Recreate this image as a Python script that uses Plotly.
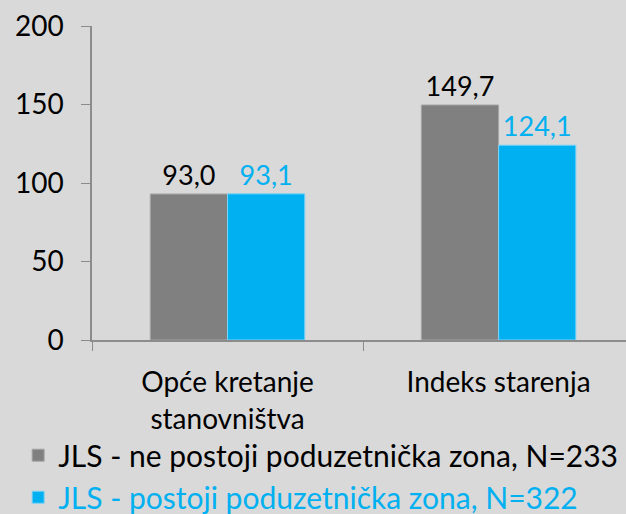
import plotly.graph_objects as go

categories = ["Opće kretanje<br>stanovništva", "Indeks starenja"]
series_names = [
    "JLS - ne postoji poduzetnička zona, N=233",
    "JLS - postoji poduzetnička zona, N=322",
]
values_no_zone = [93.0, 149.7]
values_zone = [93.1, 124.1]
y_ticks = [0, 50, 100, 150, 200]

GRAY = "#808080"
BLUE = "#00B0F0"
FONT = "Lato"


def fmt(v):
    return f"{v:.1f}".replace(".", ",")


fig = go.Figure()

fig.add_trace(go.Bar(
    x=categories,
    y=values_no_zone,
    name=series_names[0],
    legendgroup="a",
    marker=dict(color=GRAY, line=dict(color="#A6A6A6", width=1)),
    text=[fmt(v) for v in values_no_zone],
    textposition="outside",
    constraintext="none",
    textfont=dict(color="#000000", size=27, family=FONT),
    cliponaxis=False,
))
fig.add_trace(go.Bar(
    x=categories,
    y=values_zone,
    name=f"<span style='color:{BLUE}'>{series_names[1]}</span>",
    legendgroup="b",
    marker=dict(color=BLUE, line=dict(color="#7FD3F5", width=1)),
    text=[fmt(v) for v in values_zone],
    textposition="outside",
    constraintext="none",
    textfont=dict(color=BLUE, size=27, family=FONT),
    cliponaxis=False,
))

fig.update_layout(
    width=626,
    height=514,
    barmode="group",
    bargap=0.43,
    bargroupgap=0,
    paper_bgcolor="#D9D9D9",
    plot_bgcolor="#D9D9D9",
    font=dict(family=FONT, size=28, color="#000000"),
    margin=dict(l=92, r=0, t=26, b=174, autoexpand=False),
    showlegend=True,
    legend=dict(
        xref="container", yref="container",
        x=0.029, y=0.165, xanchor="left", yanchor="top",
        orientation="v",
        tracegroupgap=0,
        bgcolor="rgba(0,0,0,0)",
        font=dict(size=30, family=FONT),
    ),
)

fig.update_yaxes(
    range=[0, 200],
    tickvals=y_ticks,
    showgrid=False,
    zeroline=False,
    showline=True,
    linecolor="#8C8C8C",
    linewidth=1.5,
    ticks="outside",
    ticklen=9,
    tickcolor="#8C8C8C",
    ticklabelstandoff=12,
    tickfont=dict(size=28, family=FONT),
)
fig.update_xaxes(
    range=[-0.5, 1.47],
    showgrid=False,
    showline=True,
    linecolor="#8C8C8C",
    linewidth=1.5,
    ticks="outside",
    tickson="boundaries",
    ticklen=9,
    tickcolor="#8C8C8C",
    tickangle=0,
    ticklabelstandoff=17,
    tickfont=dict(size=28, family=FONT),
)

fig.write_html(
    "out.html",
    config={"displayModeBar": False},
    post_script="document.body.style.margin='0';",
)
